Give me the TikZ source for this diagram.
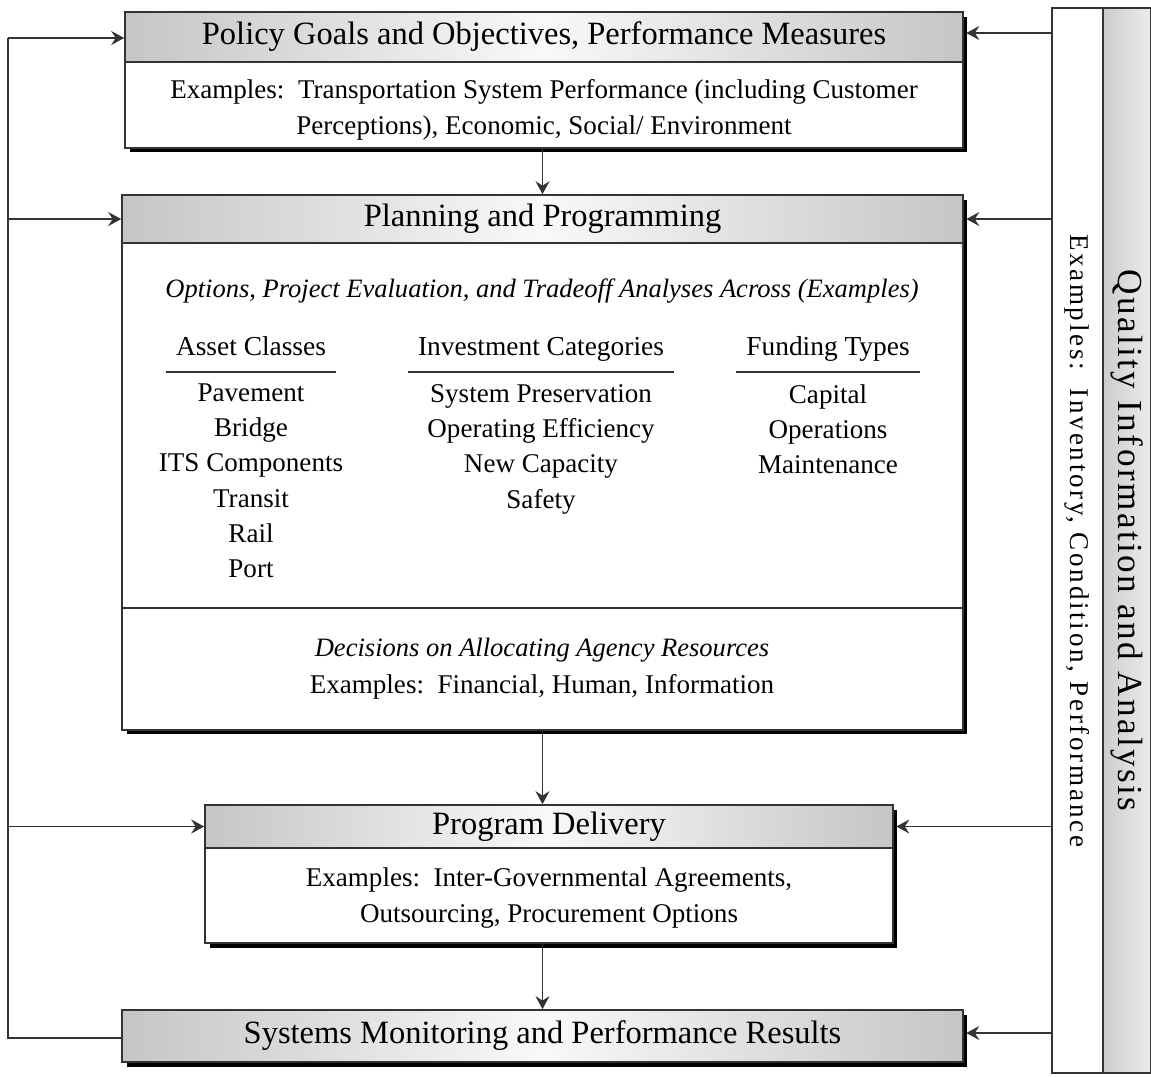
\documentclass[tikz,border=0pt]{standalone}
\usepackage{fontspec}
\setmainfont{Liberation Serif}
\usetikzlibrary{shapes,arrows,arrows.meta,shadows}
\tikzstyle{box} = [rectangle, draw=black!80, line width=1pt, fill=white,
drop shadow={shadow xshift=0.09cm, shadow yshift=-0.09cm, fill=black, opacity=1}]
\tikzstyle{head} = [rectangle, draw=black!80, line width=1pt, left color=gray!45,
right color=gray!45, middle color=gray!5, font=\fontsize{18.5}{22}\selectfont]
\tikzstyle{txt} = [align=center, font=\fontsize{15.4}{20.1}\selectfont, inner sep=0pt]
\tikzstyle{itxt} = [txt, font=\fontsize{15.1}{20.1}\selectfont\itshape]
\tikzstyle{colhd} = [inner xsep=0.2cm, inner ysep=0.26cm, text height=1.45ex, text depth=0.45ex,
font=\fontsize{15.6}{18}\selectfont]
\tikzstyle{line} = [draw, black!80, line width=0.8pt, -{Stealth[length=0.26cm, width=0.28cm, inset=0.09cm]}]

\begin{document}
\begin{tikzpicture}[x=0.02cm, y=-0.02cm]

   \useasboundingbox (0,0) rectangle (1151,1076);

   % Policy goals
   \node[box, minimum width=16.76cm, minimum height=2.72cm] (pol) at (544,80) {};
   \node[head, minimum width=16.76cm, minimum height=1cm, anchor=north] (polHead) at (pol.north)
      {Policy Goals and Objectives, Performance Measures};
   \node[txt] (polTxt) at (544,110) {Examples:\ \ Transportation System Performance (including Customer\\
      Perceptions), Economic, Social/ Environment};

   % Planning and programming
   \node[box, minimum width=16.82cm, minimum height=10.7cm] (pln) at (542.5,462.5) {};
   \node[head, minimum width=16.82cm, minimum height=0.96cm, anchor=north] (plnHead) at (pln.north)
      {Planning and Programming};
   \node[itxt] (opts) at (542,291) {Options, Project Evaluation, and Tradeoff Analyses Across (Examples)};

   \node[colhd] (assetHd) at (251,351) {Asset Classes};
   \node[colhd] (investHd) at (541,351) {Investment Categories};
   \node[colhd] (fundHd) at (828,351) {Funding Types};
   \draw[black!80, line width=1pt] (assetHd.south west) -- (assetHd.south east);
   \draw[black!80, line width=1pt] (investHd.south west) -- (investHd.south east);
   \draw[black!80, line width=1pt] (fundHd.south west) -- (fundHd.south east);

   \node[txt, anchor=north] (asset) at (251,383) {Pavement\\ Bridge\\ ITS Components\\ Transit\\ Rail\\ Port};
   \node[txt, anchor=north] (invest) at (541,384) {System Preservation\\ Operating Efficiency\\ New Capacity\\ Safety};
   \node[txt, anchor=north] (fund) at (828,384) {Capital\\ Operations\\ Maintenance};

   \draw[black!80, line width=1pt] (pln.west |- 0,608) coordinate (dvL) -- (pln.east |- 0,608) coordinate (dvR);

   \node[itxt] (dec) at (542,650) {Decisions on Allocating Agency Resources};
   \node[txt] (decEx) at (542,687) {Examples:\ \ Financial, Human, Information};

   % Program delivery
   \node[box, minimum width=13.76cm, minimum height=2.76cm] (del) at (549,874) {};
   \node[head, minimum width=13.76cm, minimum height=0.86cm, anchor=north] (delHead) at (del.north)
      {Program Delivery};
   \node[txt] (delTxt) at (549,898) {Examples:\ \ Inter-Governmental Agreements,\\ Outsourcing, Procurement Options};

   % Monitoring
   \node[head, box, left color=gray!45, right color=gray!45, middle color=gray!5,
      minimum width=16.82cm, minimum height=1.04cm] (mon) at (542.5,1036)
      {Systems Monitoring and Performance Results};

   % Quality information bar
   \node[rectangle, draw=black!80, line width=1pt, fill=white, minimum width=1.02cm,
      minimum height=21.3cm] (qEx) at (1077.5,540.5) {};
   \node[rectangle, draw=black!80, line width=1pt, left color=gray!40, right color=gray!15,
      minimum width=0.96cm, minimum height=21.3cm] (qBar) at (1127,540.5) {};
   \node[rotate=-90, font=\fontsize{20}{22}\selectfont\addfontfeatures{LetterSpace=7}] (qTxt) at (qBar)
      {Quality Information and Analysis};
   \node[rotate=-90, font=\fontsize{15.4}{18}\selectfont\addfontfeatures{LetterSpace=10}] (qExTxt) at (qEx)
      {Examples:\ \ Inventory, Condition, Performance};

   %% Lines
   \path[line] (pol.south -| pln) -- (plnHead.north);
   \path[line] (pln.south) -- (pln.south |- delHead.north);
   \path[line] (del.south -| pln) -- (mon.north);

   % left feedback loop
   \coordinate (lBot) at (8,1038);
   \coordinate (lTop) at (8,38);
   \draw[black!80, line width=0.8pt] (mon.west |- lBot) -- (lBot) -- (lTop);
   \path[line] (lTop) -- (polHead.west |- lTop);
   \path[line] (lTop |- plnHead) -- (plnHead.west);
   \path[line] (lTop |- delHead) -- (delHead.west);

   % right inputs
   \path[line] (qEx.west |- 0,33) -- ([xshift=0.05cm]polHead.east |- 0,33);
   \path[line] (qEx.west |- plnHead) -- ([xshift=0.05cm]plnHead.east);
   \path[line] (qEx.west |- delHead) -- ([xshift=0.05cm]delHead.east);
   \path[line] (qEx.west |- 0,1033) -- ([xshift=0.05cm]mon.east |- 0,1033);

\end{tikzpicture}
\end{document}
